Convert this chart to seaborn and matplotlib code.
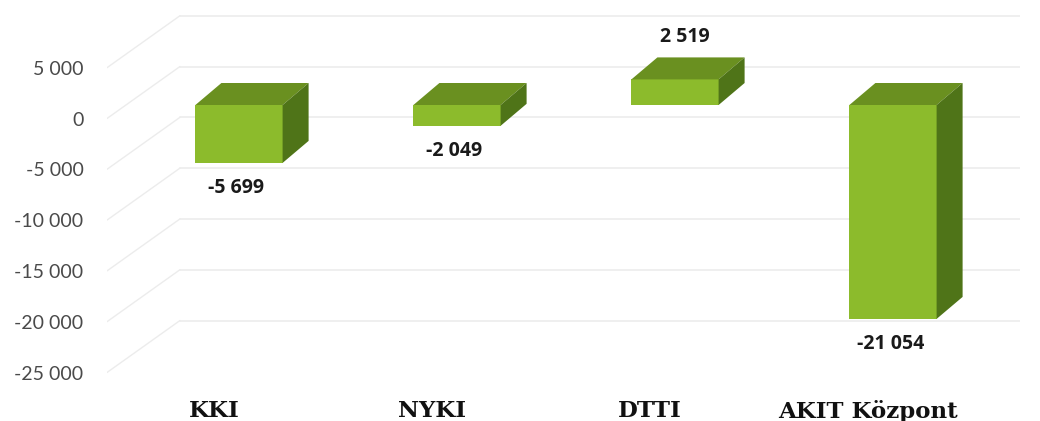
import numpy as np
import matplotlib
matplotlib.use("Agg")
import matplotlib.pyplot as plt
import matplotlib.transforms as mtransforms
from matplotlib.patches import Polygon
import seaborn as sns

# data
categories = ["KKI", "NYKI", "DTTI", "AKIT Központ"]
values = [-5699, -2049, 2519, -21054]
value_labels = ["-5 699", "-2 049", "2 519", "-21 054"]
y_ticks = [-25000, -20000, -15000, -10000, -5000, 0, 5000]

# colours
front_c = "#8cbb2c"
top_c = "#6a9020"
side_c = "#4f7418"
grid_c = "#ececec"

sns.set_style("white")

W, H = 1040, 421
fig = plt.figure(figsize=(W / 100, H / 100), dpi=100)

# axes layout in pixels (front plane)
left_px, right_px, bottom_px = 107, 1020, 390
k = 50.8 / 5000          # pixels per unit
zero_px = 118.5          # pixel row of the front-plane zero
slot = 218.0
first_px = 239.0
ax = fig.add_axes([left_px / W, (H - bottom_px) / H, (right_px - left_px) / W, bottom_px / H])

# bars (front faces), shifted slightly up for the 3D depth plane
sns.barplot(x=categories, y=values, color=front_c, saturation=1, width=0.4, ax=ax, zorder=3)
ax.set_ylim((zero_px - bottom_px) / k, zero_px / k)
ax.set_xlim((left_px - first_px) / slot, (right_px - first_px) / slot)

# back wall gridlines + left wall diagonals
back_shift = 52 / k
back_x0 = (180 - left_px) / (right_px - left_px)
ytr = ax.get_yaxis_transform()
for v in y_ticks:
    ax.plot([back_x0, 1.0], [v + back_shift] * 2, color=grid_c, lw=1.2, transform=ytr, zorder=0)
    ax.plot([0, back_x0], [v, v + back_shift], color=grid_c, lw=1.0, transform=ytr, zorder=0)

bar_tr = mtransforms.offset_copy(ax.transData, fig=fig, x=0, y=13.5, units="dots")
dx = 26 / slot
dy = 22 / k
for p in list(ax.patches):
    p.set_transform(bar_tr)
    p.set_edgecolor("none")
    x0, x1 = p.get_x(), p.get_x() + p.get_width()
    y0, y1 = p.get_y(), p.get_y() + p.get_height()
    lo, hi = min(y0, y1), max(y0, y1)
    top = Polygon([(x0, hi), (x1, hi), (x1 + dx, hi + dy), (x0 + dx, hi + dy)],
                  closed=True, facecolor=top_c, edgecolor="none", transform=bar_tr, zorder=3)
    side = Polygon([(x1, lo), (x1, hi), (x1 + dx, hi + dy), (x1 + dx, lo + dy)],
                   closed=True, facecolor=side_c, edgecolor="none", transform=bar_tr, zorder=3)
    ax.add_patch(top)
    ax.add_patch(side)

# value labels
for i, (v, lab) in enumerate(zip(values, value_labels)):
    if v < 0:
        ax.annotate(lab, xy=(i, v), xycoords=bar_tr, xytext=(-2, -18), textcoords="offset points",
                    ha="center", va="center", fontsize=14, fontweight="bold",
                    family=["Open Sans", "DejaVu Sans"], color="#1a1a1a")
    else:
        ax.annotate(lab, xy=(i + dx / 2, v + dy), xycoords=bar_tr, xytext=(-2, 15),
                    textcoords="offset points", ha="center", va="center", fontsize=14,
                    fontweight="bold", family=["Open Sans", "DejaVu Sans"], color="#1a1a1a")

# axes text
ax.set_yticks(y_ticks)
ax.set_yticklabels([f"{v:,}".replace(",", " ") for v in y_ticks],
                   fontsize=14, color="#4a4a4a", family=["Lato", "DejaVu Sans"])
ax.set_xticks(np.arange(len(categories)) - 25 / slot)
ax.set_xticklabels(categories, fontsize=16.5, fontweight="bold", color="#111111",
                   family=["DejaVu Serif"])
ax.tick_params(axis="y", length=0, pad=17)
ax.tick_params(axis="x", length=0, pad=7)
ax.set_xlabel("")
ax.set_ylabel("")
for s in ax.spines.values():
    s.set_visible(False)
ax.patch.set_alpha(0)

fig.savefig("out.png", dpi=100)
